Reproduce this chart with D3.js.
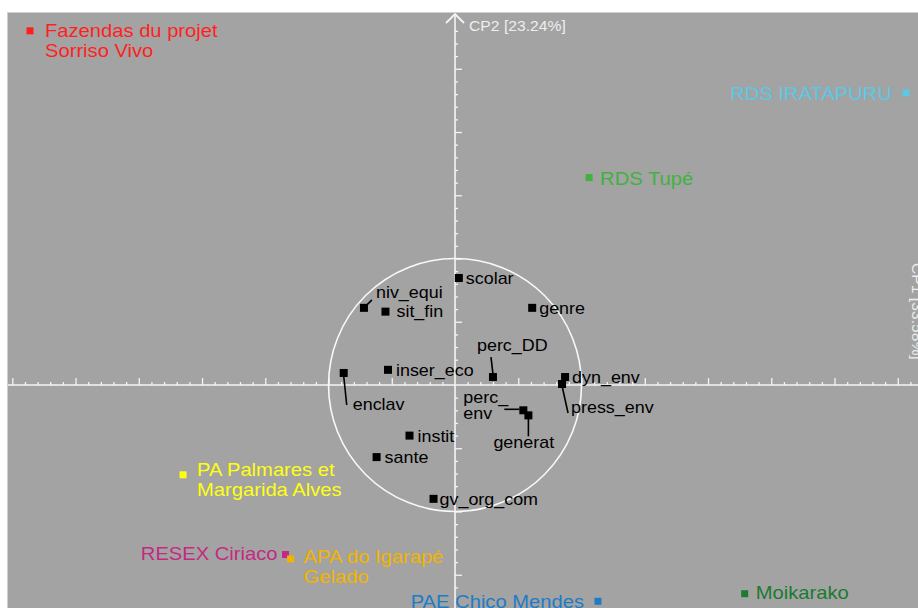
<!DOCTYPE html>
<html>
<head>
<meta charset="utf-8">
<script src="https://cdn.jsdelivr.net/npm/d3@7"></script>
<style>
  html, body { margin: 0; padding: 0; background: #ffffff; }
  svg { display: block; }
  text { font-family: "Liberation Sans", Arial, sans-serif; }
</style>
</head>
<body>
<svg id="chart" width="918" height="608"></svg>
<script>
// ---------------- DATA ----------------
const axisLabels = ["CP1 [33.58%]", "CP2 [23.24%]"];

// variables (correlation circle)
const varNames = ["scolar", "niv_equi", "sit_fin", "genre", "perc_DD", "inser_eco", "enclav",
                  "dyn_env", "press_env", "perc_env", "generat", "instit", "sante", "gv_org_com"];
const varX = [0.03, -0.72, -0.55, 0.61, 0.30, -0.53, -0.88, 0.87, 0.846, 0.54, 0.58, -0.36, -0.62, -0.17];
const varY = [0.846, 0.61, 0.58, 0.61, 0.063, 0.12, 0.095, 0.063, 0.008, -0.20, -0.24, -0.40, -0.57, -0.90];

// individuals (projects)
const indNames = ["Fazendas du projet\nSorriso Vivo", "RDS IRATAPURU", "RDS Tupé",
                  "PA Palmares et\nMargarida Alves", "RESEX Ciriaco", "APA do Igarapé\nGelado",
                  "PAE Chico Mendes", "Moikarako"];
const indX = [-3.36, 3.565, 1.06, -2.15, -1.34, -1.30, 1.13, 2.29];
const indY = [2.80, 2.31, 1.64, -0.71, -1.34, -1.375, -1.71, -1.65];
const indColors = ["#ff1f1f", "#5cc8e4", "#3fb23f", "#ffff10", "#c32a82", "#f2b400", "#1f7cc4", "#1d7a30"];

// ---------------- LAYOUT (label placement, px) ----------------
const varLabelLayout = {
  scolar:     { dx: 7,   dy: 6 },
  niv_equi:   { dx: 12,  dy: -10, lead: [2, -2, 8, -8] },
  sit_fin:    { dx: 11,  dy: 5 },
  genre:      { dx: 7,   dy: 6 },
  perc_DD:    { dx: -16, dy: -26, lead: [0, -3, -2, -20] },
  inser_eco:  { dx: 8,   dy: 6 },
  enclav:     { dx: 9,   dy: 37, lead: [0, 3, 3, 32] },
  dyn_env:    { dx: 7,   dy: 6 },
  press_env:  { dx: 9,   dy: 29, lead: [0, 2, 6, 29] },
  perc_env:   { dx: -60, dy: -7, lines: ["perc_", "env"], lead: [-4, -1, -19, -1] },
  generat:    { dx: -35, dy: 33, lead: [0, 3, 0, 21] },
  instit:     { dx: 8,   dy: 6 },
  sante:      { dx: 8,   dy: 6 },
  gv_org_com: { dx: 6,   dy: 6 }
};
const indLabelLayout = [
  { dx: 15,  dy: 6,  anchor: "start" },
  { dx: -14, dy: 7,  anchor: "end" },
  { dx: 11,  dy: 7,  anchor: "start" },
  { dx: 14,  dy: 1,  anchor: "start" },
  { dx: -8,  dy: 6,  anchor: "end" },
  { dx: 13,  dy: 4,  anchor: "start" },
  { dx: -14, dy: 7,  anchor: "end" },
  { dx: 11,  dy: 5,  anchor: "start" }
];

// ---------------- CHART ----------------
const W = 918, H = 608;
const svg = d3.select("#chart");
const plotL = 8, plotT = 13;

const x = d3.scaleLinear().domain([-3.534, 3.66]).range([plotL, W]);
const y = d3.scaleLinear().domain([2.941, -1.763]).range([plotT, H]);
const sx = 1.12; // horizontal stretch of text in the original

svg.append("rect").attr("x", plotL - 0.5).attr("y", plotT - 0.5)
  .attr("width", W - plotL + 2).attr("height", H - plotT + 2)
  .attr("fill", "#a3a3a3").attr("stroke", "#cfcfcf").attr("stroke-width", 1);

const axisColor = "#f4f4f4";
const x0 = x(0), y0 = y(0);

// axis lines
svg.append("line").attr("x1", plotL).attr("x2", W).attr("y1", y0).attr("y2", y0)
  .attr("stroke", axisColor).attr("stroke-width", 1.6);
svg.append("line").attr("x1", x0).attr("x2", x0).attr("y1", plotT + 1).attr("y2", H)
  .attr("stroke", axisColor).attr("stroke-width", 1.6);

// arrow on CP2
svg.append("path")
  .attr("d", d3.line()([[x0 - 9, plotT + 10], [x0, plotT + 1], [x0 + 9, plotT + 10]]))
  .attr("fill", "none").attr("stroke", axisColor).attr("stroke-width", 1.8);

// ticks
const rangeStep = (a, b, s) => d3.range(Math.round(a / s), Math.round(b / s) + 1).map(k => +(k * s).toFixed(2));
const xMajor = rangeStep(-3.5, 3.5, 0.5).filter(v => v !== 0);
const xMinor = rangeStep(-3.5, 3.6, 0.1).filter(v => Math.abs(v * 2 - Math.round(v * 2)) > 1e-6);
const yMajor = rangeStep(-1.5, 2.5, 0.5).filter(v => v !== 0);
const yMinor = rangeStep(-1.7, 2.8, 0.1).filter(v => Math.abs(v * 2 - Math.round(v * 2)) > 1e-6);

function styleAxis(g) {
  g.select(".domain").remove();
  g.selectAll("line").attr("stroke", axisColor).attr("stroke-width", 1.3);
  g.selectAll("text").remove();
}
svg.append("g").attr("transform", `translate(0,${y0})`)
  .call(d3.axisTop(x).tickValues(xMajor).tickSize(7).tickFormat("")).call(styleAxis);
svg.append("g").attr("transform", `translate(0,${y0})`)
  .call(d3.axisTop(x).tickValues(xMinor).tickSize(3).tickFormat("")).call(styleAxis);
svg.append("g").attr("transform", `translate(${x0},0)`)
  .call(d3.axisRight(y).tickValues(yMajor).tickSize(7).tickFormat("")).call(styleAxis);
svg.append("g").attr("transform", `translate(${x0},0)`)
  .call(d3.axisRight(y).tickValues(yMinor).tickSize(3).tickFormat("")).call(styleAxis);

// axis labels
svg.append("text").attr("transform", `translate(${x0 + 14},${plotT + 18}) scale(${sx},1)`)
  .attr("font-size", 14).attr("fill", "#eeeeee").text(axisLabels[1]);
svg.append("text").attr("transform", `translate(${W - 6},${y0 - 122}) rotate(90) scale(${sx},1)`)
  .attr("font-size", 14).attr("fill", "#eeeeee").text(axisLabels[0]);

// correlation circle (radius 1)
svg.append("circle").attr("cx", x0).attr("cy", y0).attr("r", x(1) - x(0))
  .attr("fill", "none").attr("stroke", "#f8f8f8").attr("stroke-width", 1.6);

// variables
const vars = varNames.map((n, i) => ({ name: n, x: varX[i], y: varY[i], lay: varLabelLayout[n] }));
const vg = svg.append("g");
vars.forEach(d => {
  const px = x(d.x), py = y(d.y);
  if (d.lay.lead) {
    const l = d.lay.lead;
    vg.append("line").attr("x1", px + l[0]).attr("y1", py + l[1]).attr("x2", px + l[2]).attr("y2", py + l[3])
      .attr("stroke", "#000").attr("stroke-width", 1.6);
  }
  vg.append("rect").attr("x", px - 4).attr("y", py - 4).attr("width", 8).attr("height", 8).attr("fill", "#000");
  const lines = d.lay.lines || [d.name];
  lines.forEach((t, k) => {
    vg.append("text").attr("transform", `translate(${px + d.lay.dx},${py + d.lay.dy + k * 16}) scale(${sx},1)`)
      .attr("font-size", 16).attr("fill", "#000").text(t);
  });
});

// individuals
const inds = indNames.map((n, i) => ({ name: n, x: indX[i], y: indY[i], color: indColors[i], lay: indLabelLayout[i] }));
const ig = svg.append("g");
inds.forEach(d => {
  const px = x(d.x), py = y(d.y);
  ig.append("rect").attr("x", px - 3.5).attr("y", py - 3.5).attr("width", 7).attr("height", 7).attr("fill", d.color);
  d.name.split("\n").forEach((t, k) => {
    ig.append("text").attr("transform", `translate(${px + d.lay.dx},${py + d.lay.dy + k * 20}) scale(${sx},1)`)
      .attr("font-size", 18).attr("fill", d.color).attr("text-anchor", d.lay.anchor).text(t);
  });
});
</script>
</body>
</html>
